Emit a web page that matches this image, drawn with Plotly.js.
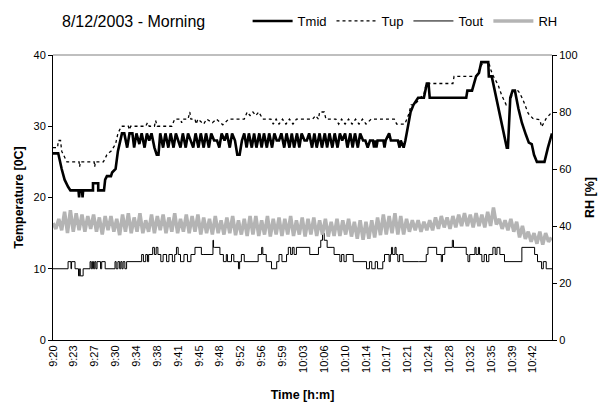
<!DOCTYPE html>
<html>
<head>
<meta charset="utf-8">
<script src="https://cdn.plot.ly/plotly-3.0.1.min.js"></script>
<style>html,body{margin:0;padding:0;background:#fff;}#chart{width:603px;height:409px;}</style>
</head>
<body>
<div id="chart"></div>
<script>
// Time axis: minutes after 9:20, tick every 3.6 min
var tickPositions = [0,3.6,7.2,10.8,14.4,18,21.6,25.2,28.8,32.4,36,39.6,43.2,46.8,50.4,54,57.6,61.2,64.8,68.4,72,75.6,79.2,82.8];
var tickLabels = ["9:20","9:23","9:27","9:30","9:34","9:38","9:41","9:45","9:48","9:52","9:56","9:59","10:03","10:06","10:10","10:14","10:17","10:21","10:24","10:28","10:32","10:35","10:39","10:42"];

// Tmid [0C]
var tmidT = [0,0.9,1.5,2.0,2.6,3.0,4.4,4.5,4.6,5.0,5.1,5.2,6.9,6.9,7.8,7.8,8.8,9.0,9.3,10.0,10.2,10.8,11.2,11.6,11.9,
 12.3,12.8,13.2,13.7,14.0,14.4,14.9,15.3,15.8,16.2,16.6,17.0,17.5,17.9,18.2,18.5,19.0,19.4,19.9,20.3,20.8,21.2,21.6,22.0,22.4,22.9,23.3,23.8,24.2,24.6,25.1,25.5,26.0,26.4,26.9,27.3,27.8,28.3,28.7,29.1,29.6,30.0,30.5,30.9,31.4,31.8,32.2,32.6,33.0,33.4,33.8,34.3,34.7,35.1,35.6,36.0,36.4,36.9,37.3,37.8,38.2,38.6,39.0,39.4,39.9,40.3,40.8,41.2,41.6,42.1,42.5,42.9,43.4,43.8,44.2,44.7,45.1,45.5,46.0,46.4,46.9,47.3,47.7,48.2,48.6,49.1,49.5,49.9,50.4,50.8,51.3,51.7,52.1,52.6,53.0,53.5,53.9,54.3,54.7,55.2,55.4,55.6,55.8,56.0,57.0,57.2,57.4,58.0,58.3,59.5,59.8,60.0,60.5,60.8,
 61.3,61.7,62.2,62.6,63.0,64.0,64.3,64.5,64.8,65.0,71.3,71.5,72.3,72.6,73.0,73.5,73.9,75.1,75.2,75.7,78.3,78.5,78.9,79.3,79.7,80.3,80.9,81.6,82.1,82.6,83.0,83.5,84.3,84.8,85.4,86.1];
var tmidV = [26.2,26.2,24,22.5,21.5,21,21,20,21,21,20,21,21,22,22,21,21,22.5,23,23,23.5,24,26.5,28,29,
 29,27,29,29,27,29,27.5,29,27,29,28,29,27,26,26,29,27,29,27,29,27,29,28,27,29,27,29,28,27,29,27,29,27,29,27,29,28,28,27,29,28,29,27,29,28,26,26,28,29,27,29,27,29,27,29,27,29,27,29,27,29,28,28,29,27,29,27,29,27,29,27,29,28,28,29,27,29,27,29,27,29,27,29,27,29,27,29,28,29,27,29,27,29,27,29,28,28,27,28,28,27,28,27,28,28,27,28,29,28,28,27,28,27,28,
 30,32,33,33.5,34,34,35,36,36,34,34,35,35,36,37,37.5,39,39,37,37,27,27,34,35,35,32.5,30.5,28.8,27.7,27.5,26,25,25,25,27,29];

// Tup [0C]
var tupT = [0,0.8,0.9,1.3,1.5,2.0,2.4,4.5,4.6,4.7,7.1,7.2,7.3,8.7,9.0,9.3,9.7,10.0,10.4,10.8,11.2,11.8,
 13.0,13.2,13.4,16.0,16.3,16.6,17.5,17.7,18.0,20.5,21.0,22.0,22.2,22.4,23.3,23.6,23.8,24.5,24.7,25.0,26.0,26.5,27.5,28.2,29.3,30.3,33.0,33.5,34.0,34.5,35.0,35.5,36.2,37.6,38.0,38.5,39.0,39.6,40.2,40.8,41.4,42.0,44.8,45.3,45.8,46.0,46.8,47.1,48.8,49.3,49.8,50.4,51.0,51.6,52.2,52.8,53.4,54.0,54.9,58.9,59.3,60.7,
 61.3,61.8,62.4,63.0,63.4,64.0,64.4,69.0,69.2,73.0,73.6,74.2,75.2,75.5,76.0,76.8,77.4,78.2,78.8,79.4,80.2,80.5,81.1,82.0,82.8,84.0,84.3,85.1,86.1];
var tupV = [27,27,28,28,26.5,25.7,25,25,24.3,25,25,24.3,25,25,25.5,26,26.3,26.5,27,27.5,29,30,
 30,29.5,30,30,30.5,30,30,30.8,30,30,31,31,30.5,31,31,32,31,31,30.3,31,30.3,31,30.5,31,30.2,31,31,32,31.5,32,31.5,32,31,31,30.3,31,30.3,31,30.3,31,30.3,31,31,31.5,31,32,32,31,31,30.3,31,30.3,31,30.3,31,30.3,31,30.3,31,31,30.3,30.3,
 31.5,33,33,33.7,34,34.5,36,36,37,37,38,39,39,38,37,35.8,34.4,33,33.2,35,35,34.7,33.7,31.8,31.1,30.9,29.9,31.1,32];

// Tout [0C] (value holds until next time)
var toutT = [0,2.6,3.1,3.2,3.8,4.4,4.6,4.7,5.2,6.4,6.6,6.8,7.0,7.2,7.4,7.6,8.2,8.4,9.0,10.7,10.9,11.2,11.5,11.7,11.9,12.1,12.4,12.7,15.3,15.6,16.0,16.3,16.5,17.2,17.5,17.8,18.1,18.6,19.0,19.6,20.0,20.6,21.0,21.3,21.6,22.0,22.6,23.2,23.8,24.5,25.6,
 25.9,27.6,27.7,27.9,28.8,29.4,29.9,30.1,30.8,31.2,31.7,32.0,32.2,32.5,33.0,35.4,36.0,36.2,36.8,37.7,38.6,39.0,39.5,40.3,40.6,41.0,41.3,41.6,42.0,44.3,45.8,46.2,46.5,46.8,47.3,48.3,48.5,49.5,49.8,50.2,50.6,51.8,54.1,54.6,55.0,55.6,56.0,56.9,57.2,58.0,58.2,58.4,58.6,59.0,59.2,59.5,59.8,60.4,63.1,63.3,64.4,64.7,66.2,67.0,67.2,67.6,68.9,69.1,71.3,71.6,71.9,72.8,73.0,73.4,73.6,74.0,74.4,74.8,75.2,75.9,76.3,76.6,77.1,77.9,80.9,83.1,83.6,84.3,84.6,85.1,86.1];
var toutV = [10,11,10,11,10,9,10,9,10,11,10,11,10,11,10,11,10,11,10,11,10,11,10,11,10,11,10,11,12,11,12,11,12,13,12,13,12,11,12,11,12,11,12,13,12,11,12,11,12,13,12,
 12,14,13,13,12,11,12,11,12,11,11,10,11,12,11,12,13,12,11,10,11,12,11,12,13,12,13,12,13,12,13,14,15,14,13,13,12,11,12,11,12,11,10,11,10,11,10,11,12,11,12,13,12,13,12,11,12,11,11,11,12,13,12,11,12,13,14,13,12,11,12,13,12,13,12,11,12,11,12,13,12,13,12,11,13,12,11,10,11,10,10];

// RH [%], sampled every 0.5 min from 9:20
var rhStart = 0, rhStep = 0.5;
var rhV = [41,39,42.5,38.5,45,37.5,45.5,38,44.5,38.5,
 44,38,43.5,39,44,38,43,37,43.5,38.5,
 43.5,38,42.5,36.8,44,38,44.5,37.5,43,38,
 44.5,37.5,42,38,44,37.5,43.5,38.5,44,37.5,
 43,38,44.5,37.5,42.5,38,44,37.5,43.5,38,
 44,37,43,37.5,42.5,37,43.5,37.5,42,37,
 43,37.5,43.5,36.8,42,37,42.5,36.5,43.5,37,
 43.5,36.5,42,37,43.5,36.3,42.5,37,43,36.5,
 42.5,37,43.5,36.5,42,37,43,36.3,42.5,37,
 43,36.5,42,37,42.5,36.3,41.5,36.5,42.5,36.5,
 42,37,42.5,36.3,41.5,35.5,42,35.2,41.5,35.5,
 42,36,43,36.8,44,37,43.5,37.5,44.5,37,
 43.5,37,42.5,38,42,38.5,42,38,41.5,38.5,
 42,38.5,43,39,43.5,39.5,43,39,43.5,39.5,
 44,40,44.5,40,44,39.5,44.5,40,44,39.5,
 45,40,46.5,40.5,42.5,39,42,38.5,42.5,38,
 41.5,36,40,35.5,38,34.5,37.5,33.8,38,33.5,
 37.5,34.5,36];

var FONT = "Liberation Sans, Arial, sans-serif";

var traces = [
  {name:"RH", x0:rhStart, dx:rhStep, y:rhV, type:"scatter", mode:"lines", yaxis:"y2", line:{color:"#b4b4b4", width:3.5}, legendrank:4},
  {name:"Tmid", x:tmidT, y:tmidV, type:"scatter", mode:"lines", line:{color:"#000", width:2.6}, legendrank:1},
  {name:"Tup", x:tupT, y:tupV, type:"scatter", mode:"lines", line:{color:"#000", width:1.3, dash:"dot"}, legendrank:2},
  {name:"Tout", x:toutT, y:toutV, type:"scatter", mode:"lines", line:{color:"#000", width:1, shape:"hv"}, legendrank:3}
];

var layout = {
  width:603, height:409,
  margin:{l:53, r:51, t:55, b:69, autoexpand:false},
  paper_bgcolor:"#fff", plot_bgcolor:"#fff",
  font:{family:FONT, size:11, color:"#000"},
  showlegend:true,
  title:{text:"8/12/2003 - Morning", x:62/603, xanchor:"left", xref:"container", y:1-21/409, yref:"container", yanchor:"middle", font:{size:16, family:FONT, color:"#000"}},
  legend:{orientation:"h", x:0.39, xanchor:"left", y:1-21/409, yref:"container", yanchor:"middle", font:{size:13, family:FONT}, bgcolor:"rgba(0,0,0,0)", traceorder:"normal", itemwidth:40},
  xaxis:{range:[0,86.1], tickmode:"array", tickvals:tickPositions, ticktext:tickLabels, tickangle:-90, ticks:"", showgrid:false, zeroline:false, showline:true, linecolor:"#000", linewidth:1, tickfont:{size:11},
    title:{text:"<b>Time [h:m]</b>", font:{size:12.5}, standoff:18}},
  yaxis:{range:[0,40], dtick:10, ticks:"outside", ticklen:4, tickcolor:"#000", showgrid:false, zeroline:false, showline:true, linecolor:"#000", linewidth:1, tickfont:{size:11},
    title:{text:"<b>Temperature [0C]</b>", font:{size:12.5}, standoff:7}},
  yaxis2:{range:[0,100], dtick:20, overlaying:"y", side:"right", ticks:"outside", ticklen:4, tickcolor:"#000", showgrid:false, zeroline:false, showline:true, linecolor:"#000", linewidth:1, tickfont:{size:11},
    title:{text:"<b>RH [%]</b>", font:{size:12.5}, standoff:8}},
  shapes:[{type:"line", xref:"paper", yref:"paper", x0:0, x1:1, y0:1, y1:1, line:{color:"#808080", width:1.2}}]
};
Plotly.newPlot("chart", traces, layout, {displayModeBar:false, staticPlot:true});
</script>
</body>
</html>
